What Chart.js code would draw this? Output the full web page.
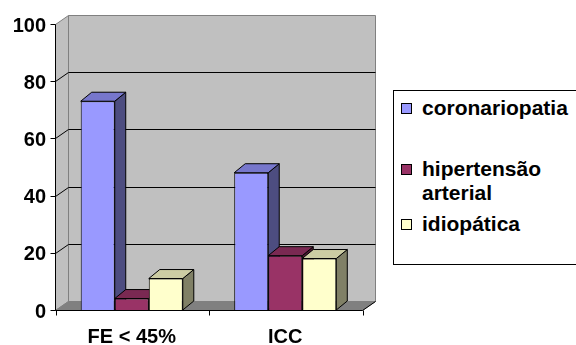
<!DOCTYPE html>
<html lang="pt">

<head>
    <meta charset="UTF-8">
    <title>FE &lt; 45% / ICC</title>
    <style>
        body { margin: 0; background: #fff; font-family: "Liberation Sans", Arial, sans-serif; }
        #wrap { position: relative; width: 576px; height: 345px; overflow: hidden; }
        #legend { position: absolute; left: 393px; top: 90px; width: 200px; height: 173px; border: 1px solid #000; background: #fff; }
        .sq { position: absolute; left: 7px; width: 11px; height: 11px; box-sizing: border-box; border: 1px solid #000; }
        .txt { position: absolute; left: 28px; width: 150px; font-size: 21px; font-weight: bold; line-height: 24px; color: #000; }
    </style>
</head>

<body>
    <div id="wrap">
        <canvas id="bar"></canvas>
        <div id="legend"></div>
    </div>
    <script src="https://cdn.jsdelivr.net/npm/chart.js@4.4.0/dist/chart.umd.min.js"></script>
    <script>
        const categories = ['FE < 45%', 'ICC']
        const seriesNames = ['coronariopatia', 'hipertensão arterial', 'idiopática']
        const coronariopatia = [73, 48]
        const hipertensao = [4, 19]
        const idiopatica = [11, 18]

        const frontColors = ['#9999FF', '#993366', '#FFFFCC']
        const topColors = ['#7777CC', '#7A2952', '#CCCCA3']
        const sideColors = ['#4D4D80', '#4D1A33', '#808066']

        const poly = (ctx, pts, fill, stroke) => {
            ctx.beginPath()
            pts.forEach((p, i) => i ? ctx.lineTo(p[0], p[1]) : ctx.moveTo(p[0], p[1]))
            ctx.closePath()
            if (fill) { ctx.fillStyle = fill; ctx.fill() }
            if (stroke) { ctx.strokeStyle = stroke; ctx.stroke() }
        }

        // walls, floor, grid and the hidden faces of the bars (fake 3d)
        const threeD = {
            id: 'threeD',
            beforeDatasetsDraw(chart) {
                const { ctx, chartArea: a, scales: { x, y } } = chart
                const L = a.left + 0.5, R = a.right + 0.5, T = a.top + 0.5, B = a.bottom + 0.5
                const wx = 13, wy = -9
                const bx = 11, by = -9
                ctx.save()
                ctx.lineWidth = 1
                poly(ctx, [[L, T], [L + wx, T + wy], [L + wx, B + wy], [L, B]], '#C0C0C0', '#808080')
                poly(ctx, [[L + wx, T + wy], [R + wx, T + wy], [R + wx, B + wy], [L + wx, B + wy]], '#C0C0C0', '#808080')
                poly(ctx, [[L, B], [R, B], [R + wx, B + wy], [L + wx, B + wy]], '#808080', '#808080')

                ctx.strokeStyle = '#000'
                y.ticks.forEach(t => {
                    if (t.value <= y.min || t.value >= y.max) return
                    const py = Math.round(y.getPixelForValue(t.value)) + 0.5
                    ctx.beginPath()
                    ctx.moveTo(L, py)
                    ctx.lineTo(L + wx, py + wy)
                    ctx.lineTo(R + wx, py + wy)
                    ctx.stroke()
                })

                // axes
                ctx.beginPath()
                ctx.moveTo(L, T); ctx.lineTo(L, B); ctx.lineTo(R, B); ctx.lineTo(R + wx, B + wy)
                y.ticks.forEach(t => {
                    const py = Math.round(y.getPixelForValue(t.value)) + 0.5
                    ctx.moveTo(L - 5, py); ctx.lineTo(L, py)
                })
                const n = categories.length
                for (let i = 0; i <= n; i++) {
                    const px = Math.round(L + (R - L) * i / n) + 0.5
                    ctx.moveTo(px, B); ctx.lineTo(px, B + 5)
                }
                ctx.stroke()

                for (let i = 0; i < n; i++) {
                    chart.data.datasets.forEach((ds, d) => {
                        const bar = chart.getDatasetMeta(d).data[i]
                        const p = bar.getProps(['x', 'y', 'base', 'width'], true)
                        const l = p.x - p.width / 2, r = p.x + p.width / 2
                        poly(ctx, [[r, p.y], [r + bx, p.y + by], [r + bx, p.base + by], [r, p.base]], sideColors[d], '#000')
                        poly(ctx, [[l, p.y], [r, p.y], [r + bx, p.y + by], [l + bx, p.y + by]], topColors[d], '#000')
                    })
                }
                ctx.restore()
            }
        }

        const values = [coronariopatia, hipertensao, idiopatica]
        const chartData = {
            labels: categories,
            datasets: seriesNames.map((name, i) => ({
                label: name,
                data: values[i],
                backgroundColor: frontColors[i],
                borderColor: '#000',
                borderWidth: 1,
                barPercentage: 1,
                categoryPercentage: 0.665
            }))
        }

        const tickFont = { family: '"Liberation Sans", Arial, sans-serif', size: 20, weight: 'bold' }

        const barChart = new Chart(document.getElementById('bar'), {
            type: 'bar',
            data: chartData,
            plugins: [threeD],
            options: {
                responsive: true,
                maintainAspectRatio: false,
                animation: false,
                layout: { padding: { left: 0, top: 24, right: 214, bottom: 0 } },
                plugins: { legend: { display: false }, tooltip: { enabled: false } },
                scales: {
                    x: {
                        grid: { display: false, drawTicks: false },
                        border: { display: false },
                        ticks: { color: '#000', font: tickFont, padding: 15 },
                        afterFit: s => { s.height = 35 }
                    },
                    y: {
                        min: 0,
                        max: 100,
                        grid: { display: false, drawTicks: false },
                        border: { display: false },
                        ticks: { stepSize: 20, color: '#000', font: tickFont, padding: 9, labelOffset: 2 },
                        afterFit: s => { s.width = 55 }
                    }
                }
            }
        })

        // legend box
        const legendTops = [5, 66, 121]
        const legend = document.getElementById('legend')
        seriesNames.forEach((name, i) => {
            const sq = document.createElement('div')
            sq.className = 'sq'
            sq.style.top = (legendTops[i] + 7) + 'px'
            sq.style.background = frontColors[i]
            legend.appendChild(sq)
            const txt = document.createElement('div')
            txt.className = 'txt'
            txt.style.top = legendTops[i] + 'px'
            txt.textContent = name
            legend.appendChild(txt)
        })
    </script>
</body>

</html>
